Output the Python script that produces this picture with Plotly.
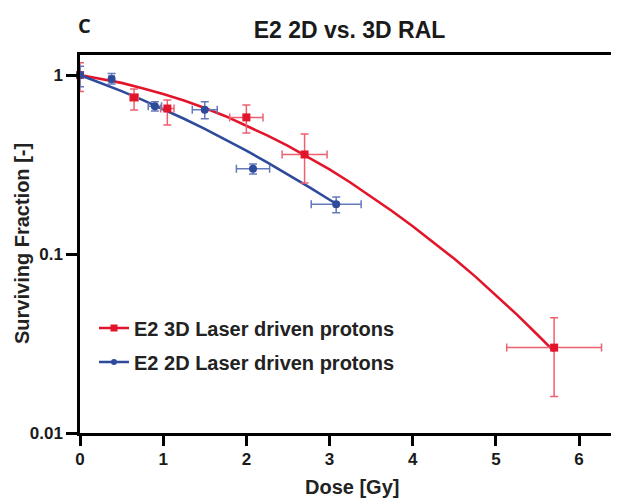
import plotly.graph_objects as go

# ---- data ----
dose_3d = [0, 0.65, 1.05, 2.0, 2.7, 5.7]
sf_3d = [1.0, 0.75, 0.65, 0.58, 0.36, 0.030]
sf_3d_hi = [1.17, 0.835, 0.725, 0.68, 0.468, 0.044]
sf_3d_lo = [0.81, 0.637, 0.526, 0.474, 0.249, 0.016]
dose_3d_err = [0.04, 0.05, 0.08, 0.2, 0.27, 0.57]

dose_2d = [0, 0.38, 0.9, 1.5, 2.08, 3.08]
sf_2d = [1.0, 0.95, 0.67, 0.64, 0.30, 0.19]
sf_2d_hi = [1.12, 1.02, 0.71, 0.71, 0.318, 0.208]
sf_2d_lo = [0.86, 0.89, 0.63, 0.57, 0.28, 0.17]
dose_2d_err = [0.03, 0.03, 0.08, 0.15, 0.2, 0.3]

fit_dose_3d = [0, 0.25, 0.5, 0.75, 1, 1.25, 1.5, 1.75, 2, 2.25, 2.5, 2.75, 3, 3.25,
               3.5, 3.75, 4, 4.25, 4.5, 4.75, 5, 5.25, 5.5, 5.6, 5.7]
fit_sf_3d = [1.0, 0.955, 0.904, 0.845, 0.784, 0.720, 0.655, 0.589, 0.523, 0.460,
             0.402, 0.347, 0.297, 0.251, 0.210, 0.174, 0.143, 0.116, 0.094, 0.075,
             0.059, 0.046, 0.0354, 0.0318, 0.0286]
fit_dose_2d = [0, 0.25, 0.5, 0.75, 1, 1.25, 1.5, 1.75, 2, 2.25, 2.5, 2.75, 3, 3.08]
fit_sf_2d = [1.0, 0.904, 0.813, 0.727, 0.645, 0.570, 0.500, 0.436, 0.378, 0.325,
             0.279, 0.237, 0.201, 0.191]

x_ticks = [0, 1, 2, 3, 4, 5, 6]
y_ticks = [0.01, 0.1, 1]
y_ticktext = ["0.01", "0.1", "1"]

name_3d = "E2 3D Laser driven protons"
name_2d = "E2 2D Laser driven protons"

RED = "#E3152B"
RED_ERR = "#EE6070"
BLUE = "#2E4A9B"
BLUE_ERR = "#6479BA"
FONT = "Liberation Sans, Arial, sans-serif"

fig = go.Figure()

# fit curves
fig.add_trace(go.Scatter(x=fit_dose_3d, y=fit_sf_3d, mode="lines",
                         line=dict(color=RED, width=2.6),
                         showlegend=False, hoverinfo="skip"))
fig.add_trace(go.Scatter(x=fit_dose_2d, y=fit_sf_2d, mode="lines",
                         line=dict(color=BLUE, width=2.6),
                         showlegend=False, hoverinfo="skip"))

# data points with error bars
fig.add_trace(go.Scatter(
    x=dose_3d, y=sf_3d, mode="markers", showlegend=False, cliponaxis=False,
    marker=dict(symbol="square", size=8, color=RED),
    error_y=dict(type="data", symmetric=False,
                 array=[h - v for h, v in zip(sf_3d_hi, sf_3d)],
                 arrayminus=[v - l for l, v in zip(sf_3d_lo, sf_3d)],
                 color=RED_ERR, thickness=1.5, width=4),
    error_x=dict(type="data", array=dose_3d_err, color=RED_ERR, thickness=1.5, width=4),
))
fig.add_trace(go.Scatter(
    x=dose_2d, y=sf_2d, mode="markers", showlegend=False, cliponaxis=False,
    marker=dict(symbol="circle", size=8, color=BLUE),
    error_y=dict(type="data", symmetric=False,
                 array=[h - v for h, v in zip(sf_2d_hi, sf_2d)],
                 arrayminus=[v - l for l, v in zip(sf_2d_lo, sf_2d)],
                 color=BLUE_ERR, thickness=1.5, width=4),
    error_x=dict(type="data", array=dose_2d_err, color=BLUE_ERR, thickness=1.5, width=4),
))

# legend entries
fig.add_trace(go.Scatter(x=[None], y=[None], mode="lines+markers", name=name_3d,
                         line=dict(color=RED, width=2.6),
                         marker=dict(symbol="square", size=7, color=RED),
                         legend="legend"))
fig.add_trace(go.Scatter(x=[None], y=[None], mode="lines+markers", name=name_2d,
                         line=dict(color=BLUE, width=2.6),
                         marker=dict(symbol="circle", size=6, color=BLUE),
                         legend="legend2"))

# page offset of the figure inside the browser window (body margin)
OFF = 8
W, H = 619 - OFF, 500 - OFF
# plot area in screen pixels
SL, ST, SR, SB = 80, 55, 619, 433
L, T = SL - OFF, ST - OFF
PW, PH = SR - SL, SB - ST


def py(sy):
    return (SB - sy) / PH


def pxx(sx):
    return (sx - SL) / PW


legend_font = dict(family=FONT, size=20, color="#222222", weight="bold")
title_font = dict(family=FONT, size=20, color="#222222", weight="bold")

fig.update_layout(
    width=W, height=H,
    margin=dict(l=L, r=W - L - PW, t=T, b=H - T - PH, pad=0, autoexpand=False),
    paper_bgcolor="white", plot_bgcolor="white",
    title=dict(text="E2 2D vs. 3D RAL", x=0.5, xref="paper", xanchor="center",
               y=1 - (30 - OFF) / H, yref="container", yanchor="middle",
               font=dict(family=FONT, size=23, color="#1a1a1a", weight="bold")),
    xaxis=dict(range=[0, 6.48], tickvals=x_ticks, showline=True, linecolor="black",
               linewidth=2.5, mirror=True, ticks="outside", ticklen=10, tickwidth=2.5,
               tickcolor="black", showgrid=False, zeroline=False, automargin=False,
               ticklabelstandoff=-1,
               tickfont=dict(family=FONT, size=17, color="#1a1a1a", weight="bold")),
    yaxis=dict(type="log", range=[-2, 0.112], tickvals=y_ticks, ticktext=y_ticktext,
               showline=True, linecolor="black", linewidth=2.5, ticks="outside",
               ticklen=11, tickwidth=2.5, tickcolor="black", showgrid=False,
               zeroline=False, automargin=False,
               tickfont=dict(family=FONT, size=17, color="#1a1a1a", weight="bold")),
    legend=dict(x=pxx(94), y=py(328), xanchor="left", yanchor="middle",
                bgcolor="rgba(0,0,0,0)", font=legend_font, itemwidth=30),
    legend2=dict(x=pxx(94), y=py(362), xanchor="left", yanchor="middle",
                 bgcolor="rgba(0,0,0,0)", font=legend_font, itemwidth=30),
    annotations=[
        dict(text="C", x=pxx(76), xref="paper", y=py(25), yref="paper",
             xanchor="left", yanchor="middle", showarrow=False,
             font=dict(family="Open Sans, sans-serif", size=20,
                       color="#1a1a1a", weight="bold")),
        dict(text="Dose [Gy]", x=pxx(352), xref="paper", y=py(487), yref="paper",
             xanchor="center", yanchor="middle", showarrow=False, font=title_font),
        dict(text="Surviving Fraction [-]", x=pxx(22), xref="paper", y=py(244),
             yref="paper", xanchor="center", yanchor="middle", showarrow=False,
             textangle=-90, font=title_font),
    ],
)

fig.write_html("out.html")
